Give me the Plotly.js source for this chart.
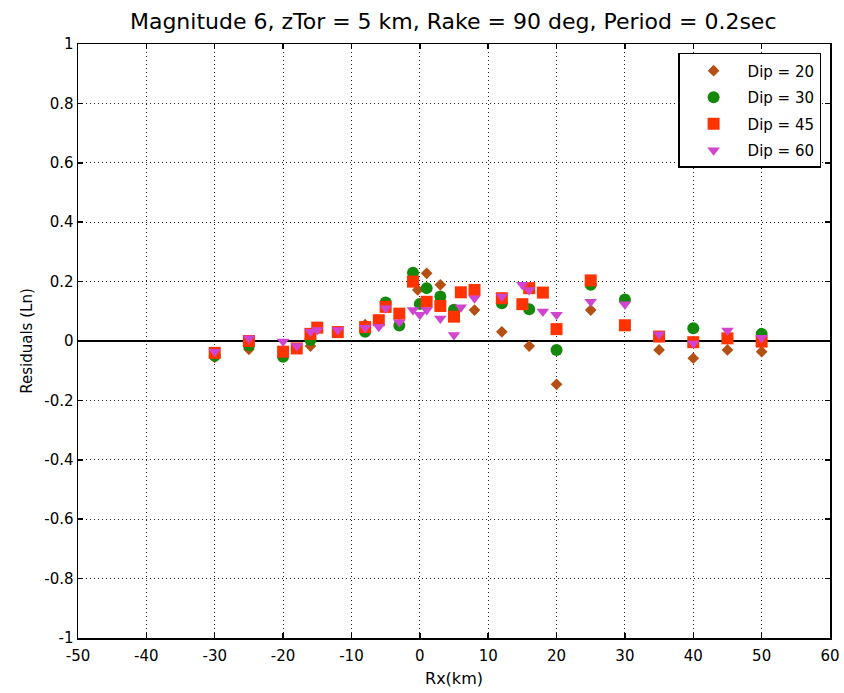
<!DOCTYPE html>
<html>
<head>
<meta charset="utf-8">
<script src="https://cdn.plot.ly/plotly-3.0.1.min.js"></script>
<style>html,body{margin:0;padding:0;background:#fff;}#chart{width:844px;height:693px;}</style>
</head>
<body>
<div id="chart"></div>
<script>
// Dip = 20
const dip20_x = [-30, -25, -20, -16, -8, -0.3, 1, 3, 8, 12, 16, 20, 25, 35, 40, 45, 50];
const dip20_y = [-0.055, -0.028, -0.04, -0.017, 0.055, 0.172, 0.228, 0.189, 0.104, 0.031, -0.017, -0.146, 0.104, -0.03, -0.058, -0.03, -0.036];
// Dip = 30
const dip30_x = [-30, -25, -20, -16, -8, -5, -3, -1, 0, 1, 3, 5, 12, 16, 20, 25, 30, 40, 50];
const dip30_y = [-0.05, -0.014, -0.053, 0.003, 0.031, 0.13, 0.052, 0.23, 0.125, 0.178, 0.15, 0.105, 0.127, 0.107, -0.03, 0.189, 0.14, 0.043, 0.024];
// Dip = 45
const dip45_x = [-30, -25, -20, -18, -16, -15, -12, -8, -6, -5, -3, -1, 1, 3, 5, 6, 8, 12, 15, 16, 18, 20, 25, 30, 35, 40, 45, 50];
const dip45_y = [-0.04, 0.0, -0.036, -0.025, 0.024, 0.045, 0.03, 0.047, 0.07, 0.115, 0.092, 0.2, 0.132, 0.118, 0.082, 0.164, 0.172, 0.144, 0.124, 0.178, 0.163, 0.04, 0.204, 0.053, 0.015, -0.004, 0.009, -0.002];
// Dip = 60
const dip60_x = [-30, -25, -20, -18, -16, -15, -12, -8, -6, -5, -3, -1, 0, 1, 3, 5, 6, 8, 12, 15, 16, 18, 20, 25, 30, 35, 40, 45, 50];
const dip60_y = [-0.036, 0.009, -0.002, -0.017, 0.031, 0.037, 0.037, 0.045, 0.048, 0.11, 0.063, 0.104, 0.088, 0.104, 0.076, 0.02, 0.114, 0.144, 0.15, 0.189, 0.172, 0.099, 0.088, 0.132, 0.124, 0.023, -0.008, 0.035, 0.011];

const seriesNames = ['Dip = 20', 'Dip = 30', 'Dip = 45', 'Dip = 60'];

const xTickVals = [-50, -40, -30, -20, -10, 0, 10, 20, 30, 40, 50, 60];
const xTickText = ['-50', '-40', '-30', '-20', '-10', '0', '10', '20', '30', '40', '50', '60'];
const yTickVals = [-1, -0.8, -0.6, -0.4, -0.2, 0, 0.2, 0.4, 0.6, 0.8, 1];
const yTickText = ['-1', '-0.8', '-0.6', '-0.4', '-0.2', '0', '0.2', '0.4', '0.6', '0.8', '1'];

const FONT = 'DejaVu Sans, Liberation Sans, Arial, sans-serif';

function trace(x, y, name, symbol, color, size) {
  return {
    x: x, y: y, name: name, type: 'scatter', mode: 'markers', legendgroup: name,
    marker: {symbol: symbol, color: color, size: size, line: {width: 0}},
    cliponaxis: false
  };
}

const data = [
  trace(dip20_x, dip20_y, seriesNames[0], 'diamond', 'rgb(180,80,20)', 9),
  trace(dip30_x, dip30_y, seriesNames[1], 'circle', 'rgb(20,136,10)', 12),
  trace(dip45_x, dip45_y, seriesNames[2], 'square', 'rgb(255,51,0)', 12),
  trace(dip60_x, dip60_y, seriesNames[3], 'triangle-down', 'rgb(208,68,208)', 11)
];

const axisCommon = {
  showline: true, linecolor: '#000', linewidth: 1.5, mirror: 'ticks',
  ticks: 'inside', ticklen: 5, tickwidth: 1.5, tickcolor: '#000',
  showgrid: true, gridcolor: '#222', gridwidth: 1, griddash: '1px,3px',
  tickfont: {family: FONT, size: 15, color: '#000'},
  tickmode: 'array'
};

const layout = {
  width: 844, height: 693,
  margin: {l: 78, r: 14, t: 44, b: 55},
  paper_bgcolor: '#fff', plot_bgcolor: '#fff',
  font: {family: FONT, color: '#000'},
  title: {text: 'Magnitude 6, zTor = 5 km, Rake = 90 deg, Period = 0.2sec',
          font: {family: FONT, size: 22, color: '#000'}, x: 0.537, xanchor: 'center', y: 0.969, yanchor: 'middle'},
  xaxis: Object.assign({}, axisCommon, {
    range: [-50, 60], tickvals: xTickVals, ticktext: xTickText, zeroline: false,
    ticklabelstandoff: 3,
    title: {text: 'Rx(km)', font: {family: FONT, size: 16, color: '#000'}, standoff: 9}
  }),
  yaxis: Object.assign({}, axisCommon, {
    range: [-1, 1], tickvals: yTickVals, ticktext: yTickText,
    zeroline: true, zerolinecolor: '#000', zerolinewidth: 2,
    title: {text: 'Residuals (Ln)', font: {family: FONT, size: 15, color: '#000'}, standoff: 8}
  }),
  showlegend: true,
  legend: {
    x: 0.798, y: 0.985, xanchor: 'left', yanchor: 'top',
    bgcolor: '#fff', bordercolor: '#000', borderwidth: 1.5,
    font: {family: FONT, size: 15, color: '#000'},
    itemwidth: 58, tracegroupgap: 4
  }
};

Plotly.newPlot('chart', data, layout, {staticPlot: true, displayModeBar: false});
</script>
</body>
</html>
